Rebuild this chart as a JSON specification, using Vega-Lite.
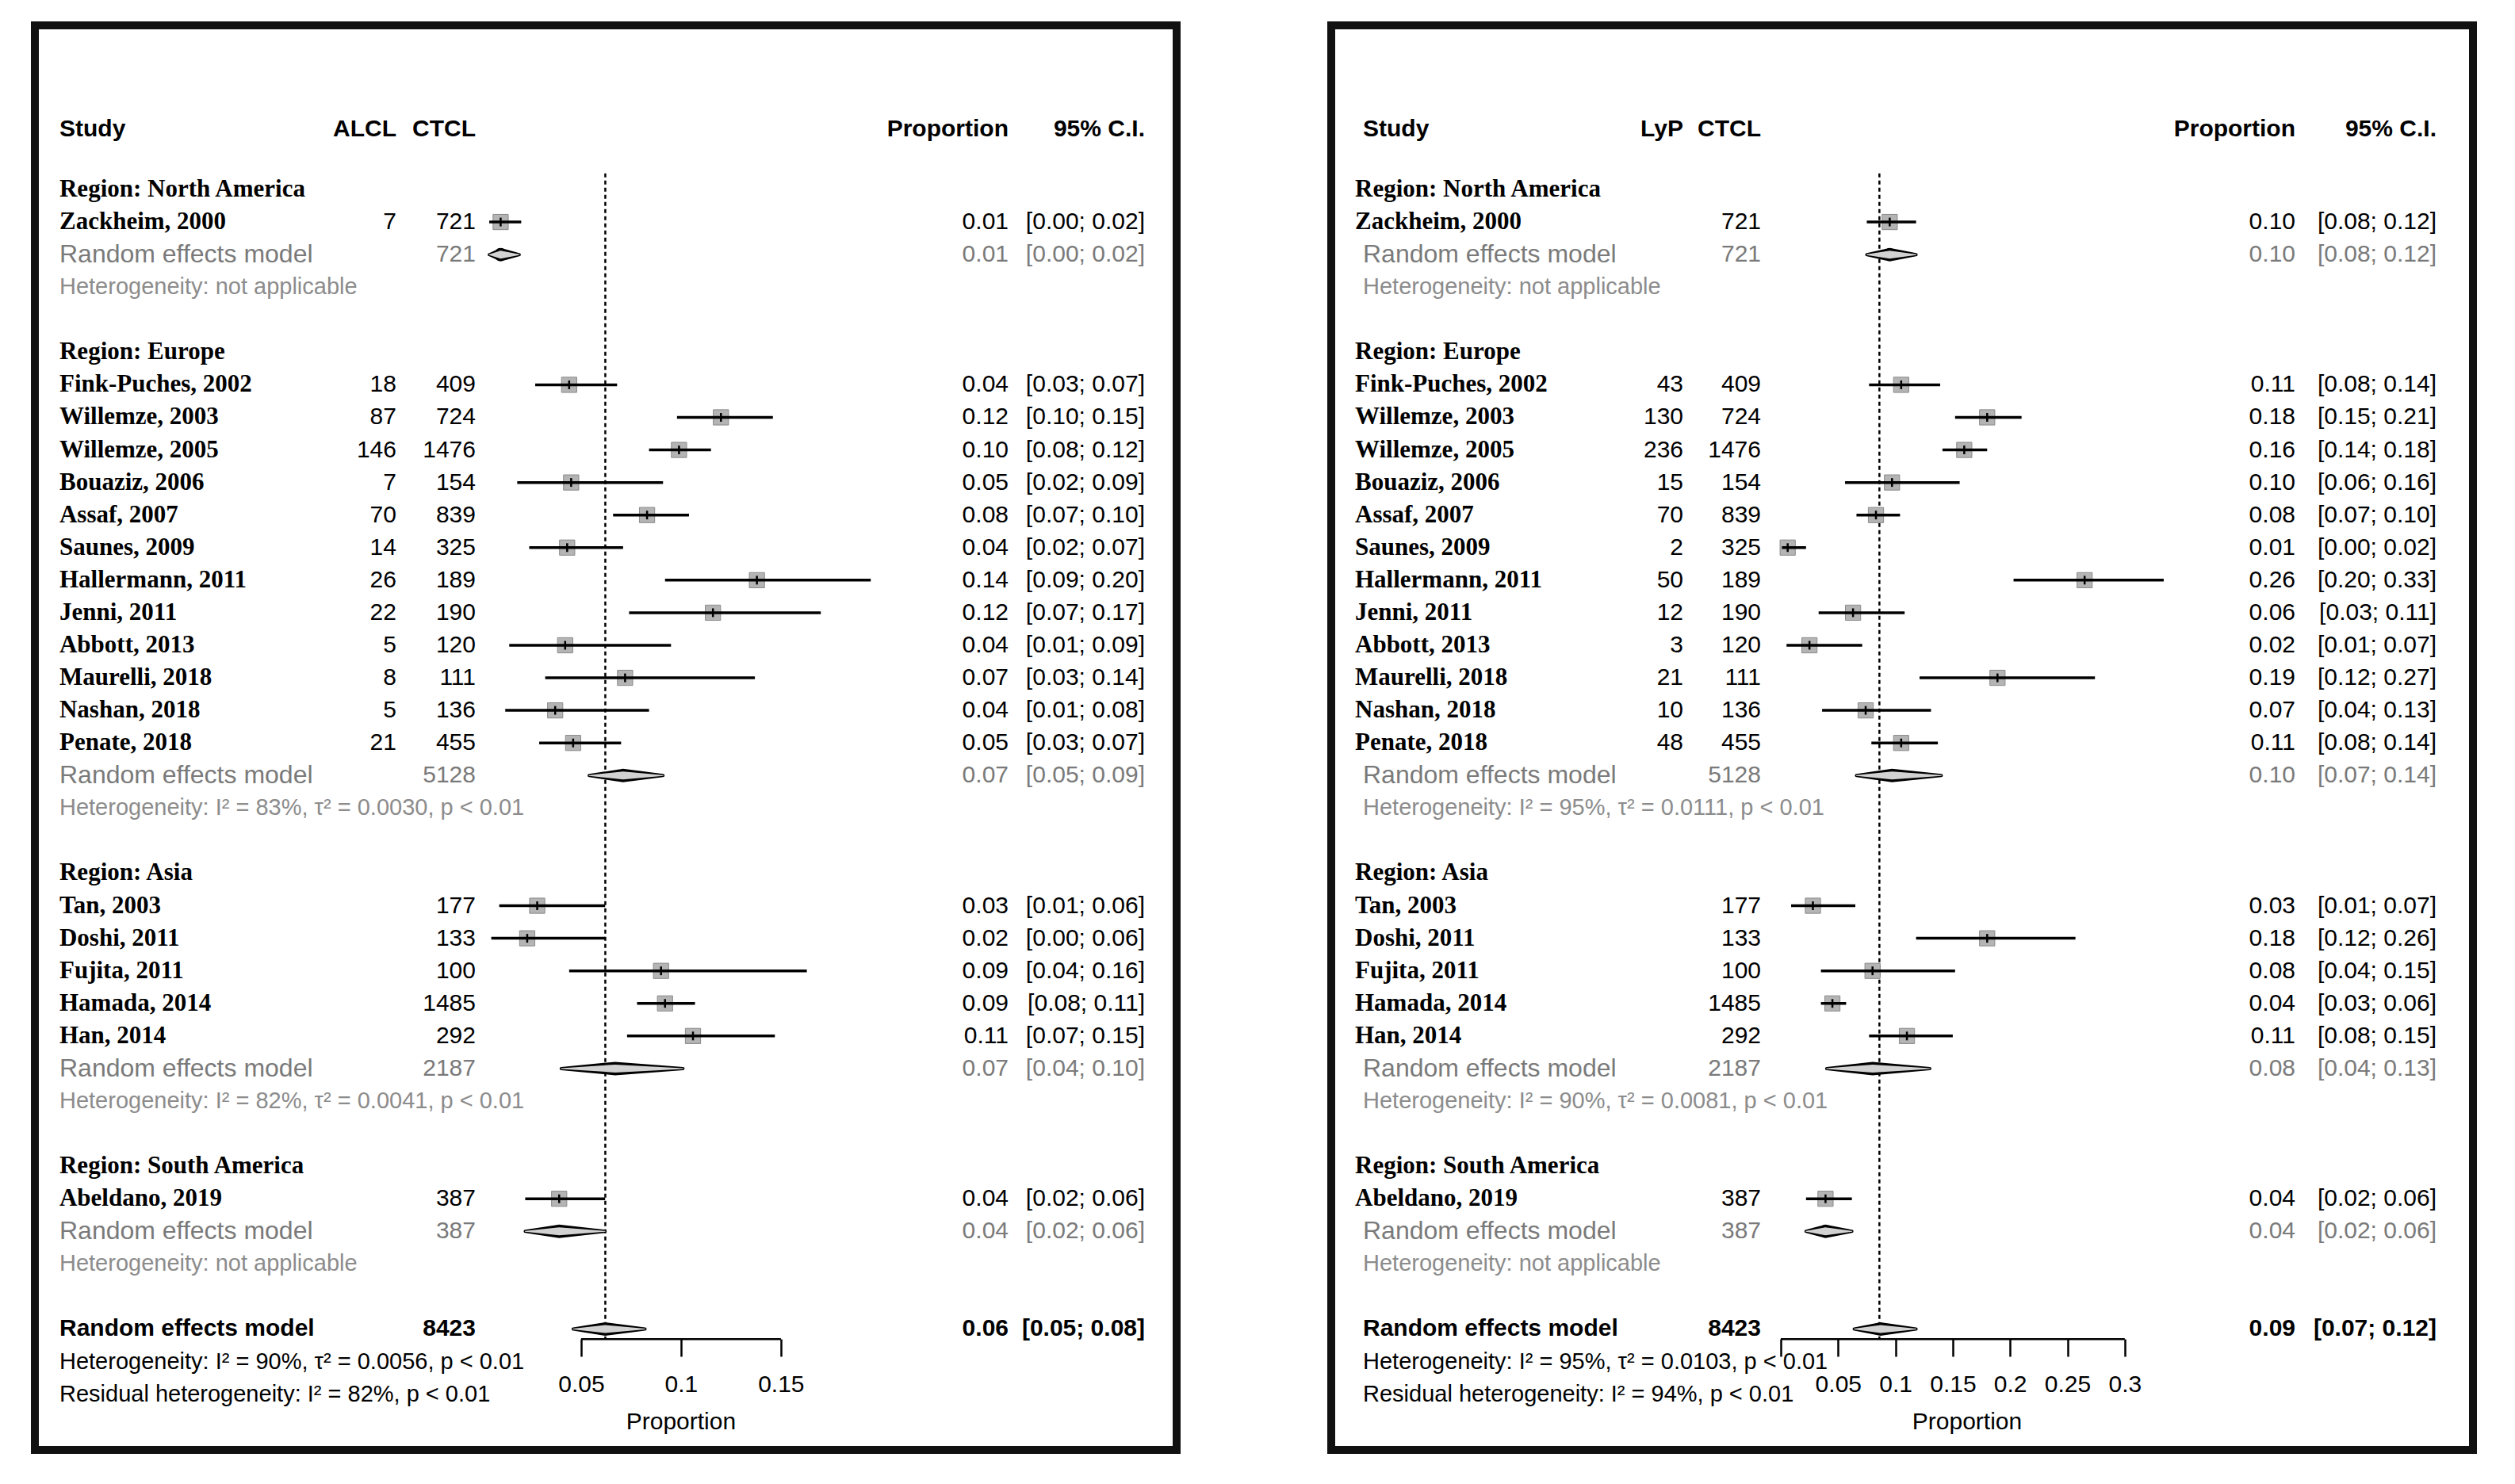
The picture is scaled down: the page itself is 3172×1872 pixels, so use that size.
{
"$schema": "https://vega.github.io/schema/vega-lite/v6.json",
"background": "white",
"padding": {"left": 39, "top": 27, "right": 58, "bottom": 48},
"bounds": "flush",
"spacing": 195,
"config": {"view": {"stroke": "#111111", "strokeWidth": 10}, "text": {"font": "Liberation Sans"}, "axis": {"labelFont": "Liberation Sans"}},
"datasets": {
"alcl": [
{"kind":"header","row":-1.86,"label":"Study","n1":"ALCL","n2":"CTCL","p":"Proportion","ci":"95% C.I."},
{"kind":"region","row":0,"label":"Region: North America"},
{"kind":"study","row":1,"label":"Zackheim, 2000","n1":7,"n2":721,"p":"0.01","ci":"[0.00; 0.02]","est":0.0097,"lo":0.004,"hi":0.02},
{"kind":"rem","row":2,"label":"Random effects model","n2":721,"p":"0.01","ci":"[0.00; 0.02]","est":0.0097,"lo":0.004,"hi":0.019},
{"kind":"het","row":3,"label":"Heterogeneity: not applicable"},
{"kind":"region","row":5,"label":"Region: Europe"},
{"kind":"study","row":6,"label":"Fink-Puches, 2002","n1":18,"n2":409,"p":"0.04","ci":"[0.03; 0.07]","est":0.044,"lo":0.027,"hi":0.068},
{"kind":"study","row":7,"label":"Willemze, 2003","n1":87,"n2":724,"p":"0.12","ci":"[0.10; 0.15]","est":0.12,"lo":0.098,"hi":0.146},
{"kind":"study","row":8,"label":"Willemze, 2005","n1":146,"n2":1476,"p":"0.10","ci":"[0.08; 0.12]","est":0.099,"lo":0.084,"hi":0.115},
{"kind":"study","row":9,"label":"Bouaziz, 2006","n1":7,"n2":154,"p":"0.05","ci":"[0.02; 0.09]","est":0.045,"lo":0.018,"hi":0.091},
{"kind":"study","row":10,"label":"Assaf, 2007","n1":70,"n2":839,"p":"0.08","ci":"[0.07; 0.10]","est":0.083,"lo":0.066,"hi":0.104},
{"kind":"study","row":11,"label":"Saunes, 2009","n1":14,"n2":325,"p":"0.04","ci":"[0.02; 0.07]","est":0.043,"lo":0.024,"hi":0.071},
{"kind":"study","row":12,"label":"Hallermann, 2011","n1":26,"n2":189,"p":"0.14","ci":"[0.09; 0.20]","est":0.138,"lo":0.092,"hi":0.195},
{"kind":"study","row":13,"label":"Jenni, 2011","n1":22,"n2":190,"p":"0.12","ci":"[0.07; 0.17]","est":0.116,"lo":0.074,"hi":0.17},
{"kind":"study","row":14,"label":"Abbott, 2013","n1":5,"n2":120,"p":"0.04","ci":"[0.01; 0.09]","est":0.042,"lo":0.014,"hi":0.095},
{"kind":"study","row":15,"label":"Maurelli, 2018","n1":8,"n2":111,"p":"0.07","ci":"[0.03; 0.14]","est":0.072,"lo":0.032,"hi":0.137},
{"kind":"study","row":16,"label":"Nashan, 2018","n1":5,"n2":136,"p":"0.04","ci":"[0.01; 0.08]","est":0.037,"lo":0.012,"hi":0.084},
{"kind":"study","row":17,"label":"Penate, 2018","n1":21,"n2":455,"p":"0.05","ci":"[0.03; 0.07]","est":0.046,"lo":0.029,"hi":0.07},
{"kind":"rem","row":18,"label":"Random effects model","n2":5128,"p":"0.07","ci":"[0.05; 0.09]","est":0.071,"lo":0.054,"hi":0.091},
{"kind":"het","row":19,"label":"Heterogeneity: I² = 83%, τ² = 0.0030, p < 0.01"},
{"kind":"region","row":21,"label":"Region: Asia"},
{"kind":"study","row":22,"label":"Tan, 2003","n2":177,"p":"0.03","ci":"[0.01; 0.06]","est":0.028,"lo":0.009,"hi":0.062},
{"kind":"study","row":23,"label":"Doshi, 2011","n2":133,"p":"0.02","ci":"[0.00; 0.06]","est":0.023,"lo":0.005,"hi":0.062},
{"kind":"study","row":24,"label":"Fujita, 2011","n2":100,"p":"0.09","ci":"[0.04; 0.16]","est":0.09,"lo":0.044,"hi":0.163},
{"kind":"study","row":25,"label":"Hamada, 2014","n2":1485,"p":"0.09","ci":"[0.08; 0.11]","est":0.092,"lo":0.078,"hi":0.107},
{"kind":"study","row":26,"label":"Han, 2014","n2":292,"p":"0.11","ci":"[0.07; 0.15]","est":0.106,"lo":0.073,"hi":0.147},
{"kind":"rem","row":27,"label":"Random effects model","n2":2187,"p":"0.07","ci":"[0.04; 0.10]","est":0.067,"lo":0.04,"hi":0.101},
{"kind":"het","row":28,"label":"Heterogeneity: I² = 82%, τ² = 0.0041, p < 0.01"},
{"kind":"region","row":30,"label":"Region: South America"},
{"kind":"study","row":31,"label":"Abeldano, 2019","n2":387,"p":"0.04","ci":"[0.02; 0.06]","est":0.039,"lo":0.022,"hi":0.062},
{"kind":"rem","row":32,"label":"Random effects model","n2":387,"p":"0.04","ci":"[0.02; 0.06]","est":0.039,"lo":0.022,"hi":0.062},
{"kind":"het","row":33,"label":"Heterogeneity: not applicable"},
{"kind":"overall","row":35,"label":"Random effects model","n2":8423,"p":"0.06","ci":"[0.05; 0.08]","est":0.062,"lo":0.046,"hi":0.082},
{"kind":"ohet","row":36,"label":"Heterogeneity: I² = 90%, τ² = 0.0056, p < 0.01"},
{"kind":"ohet","row":37,"label":"Residual heterogeneity: I² = 82%, p < 0.01"}
],
"lyp": [
{"kind":"header","row":-1.86,"label":"Study","n1":"LyP","n2":"CTCL","p":"Proportion","ci":"95% C.I."},
{"kind":"region","row":0,"label":"Region: North America"},
{"kind":"study","row":1,"label":"Zackheim, 2000","n2":721,"p":"0.10","ci":"[0.08; 0.12]","est":0.095,"lo":0.075,"hi":0.118},
{"kind":"rem","row":2,"label":"Random effects model","n2":721,"p":"0.10","ci":"[0.08; 0.12]","est":0.095,"lo":0.075,"hi":0.118},
{"kind":"het","row":3,"label":"Heterogeneity: not applicable"},
{"kind":"region","row":5,"label":"Region: Europe"},
{"kind":"study","row":6,"label":"Fink-Puches, 2002","n1":43,"n2":409,"p":"0.11","ci":"[0.08; 0.14]","est":0.105,"lo":0.077,"hi":0.139},
{"kind":"study","row":7,"label":"Willemze, 2003","n1":130,"n2":724,"p":"0.18","ci":"[0.15; 0.21]","est":0.18,"lo":0.152,"hi":0.21},
{"kind":"study","row":8,"label":"Willemze, 2005","n1":236,"n2":1476,"p":"0.16","ci":"[0.14; 0.18]","est":0.16,"lo":0.141,"hi":0.18},
{"kind":"study","row":9,"label":"Bouaziz, 2006","n1":15,"n2":154,"p":"0.10","ci":"[0.06; 0.16]","est":0.097,"lo":0.056,"hi":0.156},
{"kind":"study","row":10,"label":"Assaf, 2007","n1":70,"n2":839,"p":"0.08","ci":"[0.07; 0.10]","est":0.083,"lo":0.066,"hi":0.104},
{"kind":"study","row":11,"label":"Saunes, 2009","n1":2,"n2":325,"p":"0.01","ci":"[0.00; 0.02]","est":0.006,"lo":0.001,"hi":0.022},
{"kind":"study","row":12,"label":"Hallermann, 2011","n1":50,"n2":189,"p":"0.26","ci":"[0.20; 0.33]","est":0.265,"lo":0.203,"hi":0.334},
{"kind":"study","row":13,"label":"Jenni, 2011","n1":12,"n2":190,"p":"0.06","ci":"[0.03; 0.11]","est":0.063,"lo":0.033,"hi":0.108},
{"kind":"study","row":14,"label":"Abbott, 2013","n1":3,"n2":120,"p":"0.02","ci":"[0.01; 0.07]","est":0.025,"lo":0.005,"hi":0.071},
{"kind":"study","row":15,"label":"Maurelli, 2018","n1":21,"n2":111,"p":"0.19","ci":"[0.12; 0.27]","est":0.189,"lo":0.121,"hi":0.274},
{"kind":"study","row":16,"label":"Nashan, 2018","n1":10,"n2":136,"p":"0.07","ci":"[0.04; 0.13]","est":0.074,"lo":0.036,"hi":0.131},
{"kind":"study","row":17,"label":"Penate, 2018","n1":48,"n2":455,"p":"0.11","ci":"[0.08; 0.14]","est":0.105,"lo":0.079,"hi":0.137},
{"kind":"rem","row":18,"label":"Random effects model","n2":5128,"p":"0.10","ci":"[0.07; 0.14]","est":0.097,"lo":0.066,"hi":0.14},
{"kind":"het","row":19,"label":"Heterogeneity: I² = 95%, τ² = 0.0111, p < 0.01"},
{"kind":"region","row":21,"label":"Region: Asia"},
{"kind":"study","row":22,"label":"Tan, 2003","n2":177,"p":"0.03","ci":"[0.01; 0.07]","est":0.028,"lo":0.009,"hi":0.065},
{"kind":"study","row":23,"label":"Doshi, 2011","n2":133,"p":"0.18","ci":"[0.12; 0.26]","est":0.18,"lo":0.118,"hi":0.257},
{"kind":"study","row":24,"label":"Fujita, 2011","n2":100,"p":"0.08","ci":"[0.04; 0.15]","est":0.08,"lo":0.035,"hi":0.152},
{"kind":"study","row":25,"label":"Hamada, 2014","n2":1485,"p":"0.04","ci":"[0.03; 0.06]","est":0.045,"lo":0.035,"hi":0.057},
{"kind":"study","row":26,"label":"Han, 2014","n2":292,"p":"0.11","ci":"[0.08; 0.15]","est":0.11,"lo":0.077,"hi":0.15},
{"kind":"rem","row":27,"label":"Random effects model","n2":2187,"p":"0.08","ci":"[0.04; 0.13]","est":0.08,"lo":0.04,"hi":0.13},
{"kind":"het","row":28,"label":"Heterogeneity: I² = 90%, τ² = 0.0081, p < 0.01"},
{"kind":"region","row":30,"label":"Region: South America"},
{"kind":"study","row":31,"label":"Abeldano, 2019","n2":387,"p":"0.04","ci":"[0.02; 0.06]","est":0.039,"lo":0.022,"hi":0.062},
{"kind":"rem","row":32,"label":"Random effects model","n2":387,"p":"0.04","ci":"[0.02; 0.06]","est":0.039,"lo":0.022,"hi":0.062},
{"kind":"het","row":33,"label":"Heterogeneity: not applicable"},
{"kind":"overall","row":35,"label":"Random effects model","n2":8423,"p":"0.09","ci":"[0.07; 0.12]","est":0.087,"lo":0.064,"hi":0.118},
{"kind":"ohet","row":36,"label":"Heterogeneity: I² = 95%, τ² = 0.0103, p < 0.01"},
{"kind":"ohet","row":37,"label":"Residual heterogeneity: I² = 94%, p < 0.01"}
]
},
"hconcat": [
{
"width": 1440, "height": 1797,
"data": {"name": "alcl"},
"resolve": {"scale": {"size": "independent"}},
"layer": [
{"data": {"values": [{}]}, "mark": {"type": "rule", "strokeDash": [5, 4], "strokeWidth": 2.5, "color": "#000000"},
 "encoding": {
  "x": {"datum": 0.0621, "type": "quantitative", "scale": {"domain": [-0.2235, 0.34815], "nice": false, "zero": false},
        "axis": {"values": [0.05, 0.1, 0.15], "format": "~g", "domain": false, "grid": false, "ticks": true, "labels": true, "tickSize": 22, "tickWidth": 2.5, "tickColor": "#000000", "labelFontSize": 30, "labelColor": "#000000", "labelPadding": 20, "labelOverlap": false, "labelFlush": false, "offset": -140, "title": null}},
  "y": {"datum": -0.49, "type": "quantitative", "scale": {"domain": [-5.04, 38.714], "reverse": true, "nice": false, "zero": false}, "axis": null},
  "y2": {"datum": 35.31}}},
{"data": {"values": [{}]}, "mark": {"type": "rule", "strokeWidth": 2.5, "color": "#000000"},
 "encoding": {"x": {"datum": 0.05, "type": "quantitative"}, "x2": {"datum": 0.15}, "y": {"datum": 35.31, "type": "quantitative", "axis": null}}},
{"transform": [{"filter": "datum.kind == 'study'"}],
 "mark": {"type": "point", "shape": "square", "filled": true, "size": 370, "fill": "#b4b4b4", "stroke": "#8a8a8a", "strokeWidth": 1, "opacity": 1},
 "encoding": {"x": {"field": "est", "type": "quantitative"}, "y": {"field": "row", "type": "quantitative", "axis": null}}},
{"transform": [{"filter": "datum.kind == 'study'"}],
 "mark": {"type": "rule", "strokeWidth": 3.5, "color": "#000000"},
 "encoding": {"x": {"field": "lo", "type": "quantitative"}, "x2": {"field": "hi"}, "y": {"field": "row", "type": "quantitative", "axis": null}}},
{"transform": [{"filter": "datum.kind == 'study'"}],
 "mark": {"type": "point", "shape": "M0,-1V1", "size": 120, "filled": false, "stroke": "#000000", "strokeWidth": 2.5, "opacity": 1},
 "encoding": {"x": {"field": "est", "type": "quantitative"}, "y": {"field": "row", "type": "quantitative", "axis": null}}},
{"transform": [{"filter": "datum.kind == 'rem' || datum.kind == 'overall'"}, {"fold": ["lo", "est", "hi"], "as": ["vertex", "v"]}],
 "mark": {"type": "trail", "color": "#000000"},
 "encoding": {"x": {"field": "v", "type": "quantitative"}, "y": {"field": "row", "type": "quantitative", "axis": null},
  "size": {"field": "vertex", "type": "ordinal", "scale": {"type": "ordinal", "domain": ["lo", "est", "hi"], "range": [4, 17, 4]}, "legend": null},
  "detail": {"field": "row", "type": "nominal"}}},
{"transform": [{"filter": "datum.kind == 'rem' || datum.kind == 'overall'"}, {"fold": ["lo", "est", "hi"], "as": ["vertex", "v"]}],
 "mark": {"type": "trail", "color": "#d2d2d2"},
 "encoding": {"x": {"field": "v", "type": "quantitative"}, "y": {"field": "row", "type": "quantitative", "axis": null},
  "size": {"field": "vertex", "type": "ordinal", "scale": {"type": "ordinal", "domain": ["lo", "est", "hi"], "range": [0, 10, 0]}, "legend": null},
  "detail": {"field": "row", "type": "nominal"}}},
{"transform": [{"filter": "datum.kind == 'region' || datum.kind == 'study'"}],
 "mark": {"type": "text", "align": "left", "baseline": "middle", "font": "Liberation Serif", "fontWeight": "bold", "fontSize": 31, "color": "#000000"},
 "encoding": {"x": {"datum": -0.2112, "type": "quantitative"}, "y": {"field": "row", "type": "quantitative", "axis": null}, "text": {"field": "label"}}},
{"transform": [{"filter": "datum.kind == 'rem'"}],
 "mark": {"type": "text", "align": "left", "baseline": "middle", "fontSize": 32, "color": "#7a7a7a"},
 "encoding": {"x": {"datum": -0.2112, "type": "quantitative"}, "y": {"field": "row", "type": "quantitative", "axis": null}, "text": {"field": "label"}}},
{"transform": [{"filter": "datum.kind == 'het' || datum.kind == 'ohet'"}],
 "mark": {"type": "text", "align": "left", "baseline": "middle", "fontSize": 29},
 "encoding": {"x": {"datum": -0.2112, "type": "quantitative"}, "y": {"field": "row", "type": "quantitative", "axis": null}, "text": {"field": "label"},
  "color": {"field": "kind", "type": "nominal", "scale": {"domain": ["header", "region", "study", "rem", "het", "overall", "ohet"], "range": ["#000000", "#000000", "#000000", "#7a7a7a", "#8c8c8c", "#000000", "#000000"]}, "legend": null}}},
{"transform": [{"filter": "datum.kind == 'overall' || datum.kind == 'header'"}],
 "mark": {"type": "text", "align": "left", "baseline": "middle", "fontSize": 30, "fontWeight": "bold", "color": "#000000"},
 "encoding": {"x": {"datum": -0.2112, "type": "quantitative"}, "y": {"field": "row", "type": "quantitative", "axis": null}, "text": {"field": "label"}}},
{"transform": [{"filter": "(datum.kind == 'study' || datum.kind == 'rem') && isValid(datum.n1)"}],
 "mark": {"type": "text", "align": "right", "baseline": "middle", "fontSize": 30},
 "encoding": {"x": {"datum": -0.04248, "type": "quantitative"}, "y": {"field": "row", "type": "quantitative", "axis": null}, "text": {"field": "n1", "type": "nominal"},
  "color": {"field": "kind", "type": "nominal", "scale": {"domain": ["header", "region", "study", "rem", "het", "overall", "ohet"], "range": ["#000000", "#000000", "#000000", "#7a7a7a", "#8c8c8c", "#000000", "#000000"]}, "legend": null}}},
{"transform": [{"filter": "(datum.kind == 'study' || datum.kind == 'rem') && isValid(datum.n2)"}],
 "mark": {"type": "text", "align": "right", "baseline": "middle", "fontSize": 30},
 "encoding": {"x": {"datum": -0.00278, "type": "quantitative"}, "y": {"field": "row", "type": "quantitative", "axis": null}, "text": {"field": "n2", "type": "nominal"},
  "color": {"field": "kind", "type": "nominal", "scale": {"domain": ["header", "region", "study", "rem", "het", "overall", "ohet"], "range": ["#000000", "#000000", "#000000", "#7a7a7a", "#8c8c8c", "#000000", "#000000"]}, "legend": null}}},
{"transform": [{"filter": "(datum.kind == 'study' || datum.kind == 'rem') && isValid(datum.p)"}],
 "mark": {"type": "text", "align": "right", "baseline": "middle", "fontSize": 30},
 "encoding": {"x": {"datum": 0.26399, "type": "quantitative"}, "y": {"field": "row", "type": "quantitative", "axis": null}, "text": {"field": "p", "type": "nominal"},
  "color": {"field": "kind", "type": "nominal", "scale": {"domain": ["header", "region", "study", "rem", "het", "overall", "ohet"], "range": ["#000000", "#000000", "#000000", "#7a7a7a", "#8c8c8c", "#000000", "#000000"]}, "legend": null}}},
{"transform": [{"filter": "(datum.kind == 'study' || datum.kind == 'rem') && isValid(datum.ci)"}],
 "mark": {"type": "text", "align": "right", "baseline": "middle", "fontSize": 30},
 "encoding": {"x": {"datum": 0.33227, "type": "quantitative"}, "y": {"field": "row", "type": "quantitative", "axis": null}, "text": {"field": "ci", "type": "nominal"},
  "color": {"field": "kind", "type": "nominal", "scale": {"domain": ["header", "region", "study", "rem", "het", "overall", "ohet"], "range": ["#000000", "#000000", "#000000", "#7a7a7a", "#8c8c8c", "#000000", "#000000"]}, "legend": null}}},
{"transform": [{"filter": "(datum.kind == 'overall' || datum.kind == 'header') && isValid(datum.n1)"}],
 "mark": {"type": "text", "align": "right", "baseline": "middle", "fontSize": 30, "fontWeight": "bold", "color": "#000000"},
 "encoding": {"x": {"datum": -0.04248, "type": "quantitative"}, "y": {"field": "row", "type": "quantitative", "axis": null}, "text": {"field": "n1", "type": "nominal"}}},
{"transform": [{"filter": "(datum.kind == 'overall' || datum.kind == 'header') && isValid(datum.n2)"}],
 "mark": {"type": "text", "align": "right", "baseline": "middle", "fontSize": 30, "fontWeight": "bold", "color": "#000000"},
 "encoding": {"x": {"datum": -0.00278, "type": "quantitative"}, "y": {"field": "row", "type": "quantitative", "axis": null}, "text": {"field": "n2", "type": "nominal"}}},
{"transform": [{"filter": "(datum.kind == 'overall' || datum.kind == 'header') && isValid(datum.p)"}],
 "mark": {"type": "text", "align": "right", "baseline": "middle", "fontSize": 30, "fontWeight": "bold", "color": "#000000"},
 "encoding": {"x": {"datum": 0.26399, "type": "quantitative"}, "y": {"field": "row", "type": "quantitative", "axis": null}, "text": {"field": "p", "type": "nominal"}}},
{"transform": [{"filter": "(datum.kind == 'overall' || datum.kind == 'header') && isValid(datum.ci)"}],
 "mark": {"type": "text", "align": "right", "baseline": "middle", "fontSize": 30, "fontWeight": "bold", "color": "#000000"},
 "encoding": {"x": {"datum": 0.33227, "type": "quantitative"}, "y": {"field": "row", "type": "quantitative", "axis": null}, "text": {"field": "ci", "type": "nominal"}}},
{"data": {"values": [{"t": "Proportion"}]},
 "mark": {"type": "text", "align": "center", "baseline": "middle", "fontSize": 30, "color": "#000000"},
 "encoding": {"x": {"datum": 0.1, "type": "quantitative"}, "y": {"datum": 37.86, "type": "quantitative", "axis": null}, "text": {"field": "t"}}}
]
},
{
"width": 1440, "height": 1797,
"data": {"name": "lyp"},
"resolve": {"scale": {"size": "independent"}},
"layer": [
{"data": {"values": [{}]}, "mark": {"type": "rule", "strokeDash": [5, 4], "strokeWidth": 2.5, "color": "#000000"},
 "encoding": {
  "x": {"datum": 0.086, "type": "quantitative", "scale": {"domain": [-0.39212, 0.60373], "nice": false, "zero": false},
        "axis": {"values": [0, 0.05, 0.1, 0.15, 0.2, 0.25, 0.3], "format": "~g", "labelExpr": "datum.value == 0 ? '' : datum.label", "domain": false, "grid": false, "ticks": true, "labels": true, "tickSize": 22, "tickWidth": 2.5, "tickColor": "#000000", "labelFontSize": 30, "labelColor": "#000000", "labelPadding": 20, "labelOverlap": false, "labelFlush": false, "offset": -140, "title": null}},
  "y": {"datum": -0.49, "type": "quantitative", "scale": {"domain": [-5.04, 38.714], "reverse": true, "nice": false, "zero": false}, "axis": null},
  "y2": {"datum": 35.31}}},
{"data": {"values": [{}]}, "mark": {"type": "rule", "strokeWidth": 2.5, "color": "#000000"},
 "encoding": {"x": {"datum": 0, "type": "quantitative"}, "x2": {"datum": 0.3}, "y": {"datum": 35.31, "type": "quantitative", "axis": null}}},
{"transform": [{"filter": "datum.kind == 'study'"}],
 "mark": {"type": "point", "shape": "square", "filled": true, "size": 370, "fill": "#b4b4b4", "stroke": "#8a8a8a", "strokeWidth": 1, "opacity": 1},
 "encoding": {"x": {"field": "est", "type": "quantitative"}, "y": {"field": "row", "type": "quantitative", "axis": null}}},
{"transform": [{"filter": "datum.kind == 'study'"}],
 "mark": {"type": "rule", "strokeWidth": 3.5, "color": "#000000"},
 "encoding": {"x": {"field": "lo", "type": "quantitative"}, "x2": {"field": "hi"}, "y": {"field": "row", "type": "quantitative", "axis": null}}},
{"transform": [{"filter": "datum.kind == 'study'"}],
 "mark": {"type": "point", "shape": "M0,-1V1", "size": 120, "filled": false, "stroke": "#000000", "strokeWidth": 2.5, "opacity": 1},
 "encoding": {"x": {"field": "est", "type": "quantitative"}, "y": {"field": "row", "type": "quantitative", "axis": null}}},
{"transform": [{"filter": "datum.kind == 'rem' || datum.kind == 'overall'"}, {"fold": ["lo", "est", "hi"], "as": ["vertex", "v"]}],
 "mark": {"type": "trail", "color": "#000000"},
 "encoding": {"x": {"field": "v", "type": "quantitative"}, "y": {"field": "row", "type": "quantitative", "axis": null},
  "size": {"field": "vertex", "type": "ordinal", "scale": {"type": "ordinal", "domain": ["lo", "est", "hi"], "range": [4, 17, 4]}, "legend": null},
  "detail": {"field": "row", "type": "nominal"}}},
{"transform": [{"filter": "datum.kind == 'rem' || datum.kind == 'overall'"}, {"fold": ["lo", "est", "hi"], "as": ["vertex", "v"]}],
 "mark": {"type": "trail", "color": "#d2d2d2"},
 "encoding": {"x": {"field": "v", "type": "quantitative"}, "y": {"field": "row", "type": "quantitative", "axis": null},
  "size": {"field": "vertex", "type": "ordinal", "scale": {"type": "ordinal", "domain": ["lo", "est", "hi"], "range": [0, 10, 0]}, "legend": null},
  "detail": {"field": "row", "type": "nominal"}}},
{"transform": [{"filter": "datum.kind == 'region' || datum.kind == 'study'"}],
 "mark": {"type": "text", "align": "left", "baseline": "middle", "font": "Liberation Serif", "fontWeight": "bold", "fontSize": 31, "color": "#000000"},
 "encoding": {"x": {"datum": -0.37137, "type": "quantitative"}, "y": {"field": "row", "type": "quantitative", "axis": null}, "text": {"field": "label"}}},
{"transform": [{"filter": "datum.kind == 'rem'"}],
 "mark": {"type": "text", "align": "left", "baseline": "middle", "fontSize": 32, "color": "#7a7a7a"},
 "encoding": {"x": {"datum": -0.36445, "type": "quantitative"}, "y": {"field": "row", "type": "quantitative", "axis": null}, "text": {"field": "label"}}},
{"transform": [{"filter": "datum.kind == 'het' || datum.kind == 'ohet'"}],
 "mark": {"type": "text", "align": "left", "baseline": "middle", "fontSize": 29},
 "encoding": {"x": {"datum": -0.36445, "type": "quantitative"}, "y": {"field": "row", "type": "quantitative", "axis": null}, "text": {"field": "label"},
  "color": {"field": "kind", "type": "nominal", "scale": {"domain": ["header", "region", "study", "rem", "het", "overall", "ohet"], "range": ["#000000", "#000000", "#000000", "#7a7a7a", "#8c8c8c", "#000000", "#000000"]}, "legend": null}}},
{"transform": [{"filter": "datum.kind == 'overall' || datum.kind == 'header'"}],
 "mark": {"type": "text", "align": "left", "baseline": "middle", "fontSize": 30, "fontWeight": "bold", "color": "#000000"},
 "encoding": {"x": {"datum": -0.36445, "type": "quantitative"}, "y": {"field": "row", "type": "quantitative", "axis": null}, "text": {"field": "label"}}},
{"transform": [{"filter": "(datum.kind == 'study' || datum.kind == 'rem') && isValid(datum.n1)"}],
 "mark": {"type": "text", "align": "right", "baseline": "middle", "fontSize": 30},
 "encoding": {"x": {"datum": -0.08506, "type": "quantitative"}, "y": {"field": "row", "type": "quantitative", "axis": null}, "text": {"field": "n1", "type": "nominal"},
  "color": {"field": "kind", "type": "nominal", "scale": {"domain": ["header", "region", "study", "rem", "het", "overall", "ohet"], "range": ["#000000", "#000000", "#000000", "#7a7a7a", "#8c8c8c", "#000000", "#000000"]}, "legend": null}}},
{"transform": [{"filter": "(datum.kind == 'study' || datum.kind == 'rem') && isValid(datum.n2)"}],
 "mark": {"type": "text", "align": "right", "baseline": "middle", "fontSize": 30},
 "encoding": {"x": {"datum": -0.01729, "type": "quantitative"}, "y": {"field": "row", "type": "quantitative", "axis": null}, "text": {"field": "n2", "type": "nominal"},
  "color": {"field": "kind", "type": "nominal", "scale": {"domain": ["header", "region", "study", "rem", "het", "overall", "ohet"], "range": ["#000000", "#000000", "#000000", "#7a7a7a", "#8c8c8c", "#000000", "#000000"]}, "legend": null}}},
{"transform": [{"filter": "(datum.kind == 'study' || datum.kind == 'rem') && isValid(datum.p)"}],
 "mark": {"type": "text", "align": "right", "baseline": "middle", "fontSize": 30},
 "encoding": {"x": {"datum": 0.44883, "type": "quantitative"}, "y": {"field": "row", "type": "quantitative", "axis": null}, "text": {"field": "p", "type": "nominal"},
  "color": {"field": "kind", "type": "nominal", "scale": {"domain": ["header", "region", "study", "rem", "het", "overall", "ohet"], "range": ["#000000", "#000000", "#000000", "#7a7a7a", "#8c8c8c", "#000000", "#000000"]}, "legend": null}}},
{"transform": [{"filter": "(datum.kind == 'study' || datum.kind == 'rem') && isValid(datum.ci)"}],
 "mark": {"type": "text", "align": "right", "baseline": "middle", "fontSize": 30},
 "encoding": {"x": {"datum": 0.57192, "type": "quantitative"}, "y": {"field": "row", "type": "quantitative", "axis": null}, "text": {"field": "ci", "type": "nominal"},
  "color": {"field": "kind", "type": "nominal", "scale": {"domain": ["header", "region", "study", "rem", "het", "overall", "ohet"], "range": ["#000000", "#000000", "#000000", "#7a7a7a", "#8c8c8c", "#000000", "#000000"]}, "legend": null}}},
{"transform": [{"filter": "(datum.kind == 'overall' || datum.kind == 'header') && isValid(datum.n1)"}],
 "mark": {"type": "text", "align": "right", "baseline": "middle", "fontSize": 30, "fontWeight": "bold", "color": "#000000"},
 "encoding": {"x": {"datum": -0.08506, "type": "quantitative"}, "y": {"field": "row", "type": "quantitative", "axis": null}, "text": {"field": "n1", "type": "nominal"}}},
{"transform": [{"filter": "(datum.kind == 'overall' || datum.kind == 'header') && isValid(datum.n2)"}],
 "mark": {"type": "text", "align": "right", "baseline": "middle", "fontSize": 30, "fontWeight": "bold", "color": "#000000"},
 "encoding": {"x": {"datum": -0.01729, "type": "quantitative"}, "y": {"field": "row", "type": "quantitative", "axis": null}, "text": {"field": "n2", "type": "nominal"}}},
{"transform": [{"filter": "(datum.kind == 'overall' || datum.kind == 'header') && isValid(datum.p)"}],
 "mark": {"type": "text", "align": "right", "baseline": "middle", "fontSize": 30, "fontWeight": "bold", "color": "#000000"},
 "encoding": {"x": {"datum": 0.44883, "type": "quantitative"}, "y": {"field": "row", "type": "quantitative", "axis": null}, "text": {"field": "p", "type": "nominal"}}},
{"transform": [{"filter": "(datum.kind == 'overall' || datum.kind == 'header') && isValid(datum.ci)"}],
 "mark": {"type": "text", "align": "right", "baseline": "middle", "fontSize": 30, "fontWeight": "bold", "color": "#000000"},
 "encoding": {"x": {"datum": 0.57192, "type": "quantitative"}, "y": {"field": "row", "type": "quantitative", "axis": null}, "text": {"field": "ci", "type": "nominal"}}},
{"data": {"values": [{"t": "Proportion"}]},
 "mark": {"type": "text", "align": "center", "baseline": "middle", "fontSize": 30, "color": "#000000"},
 "encoding": {"x": {"datum": 0.1625, "type": "quantitative"}, "y": {"datum": 37.86, "type": "quantitative", "axis": null}, "text": {"field": "t"}}}
]
}
]
}
